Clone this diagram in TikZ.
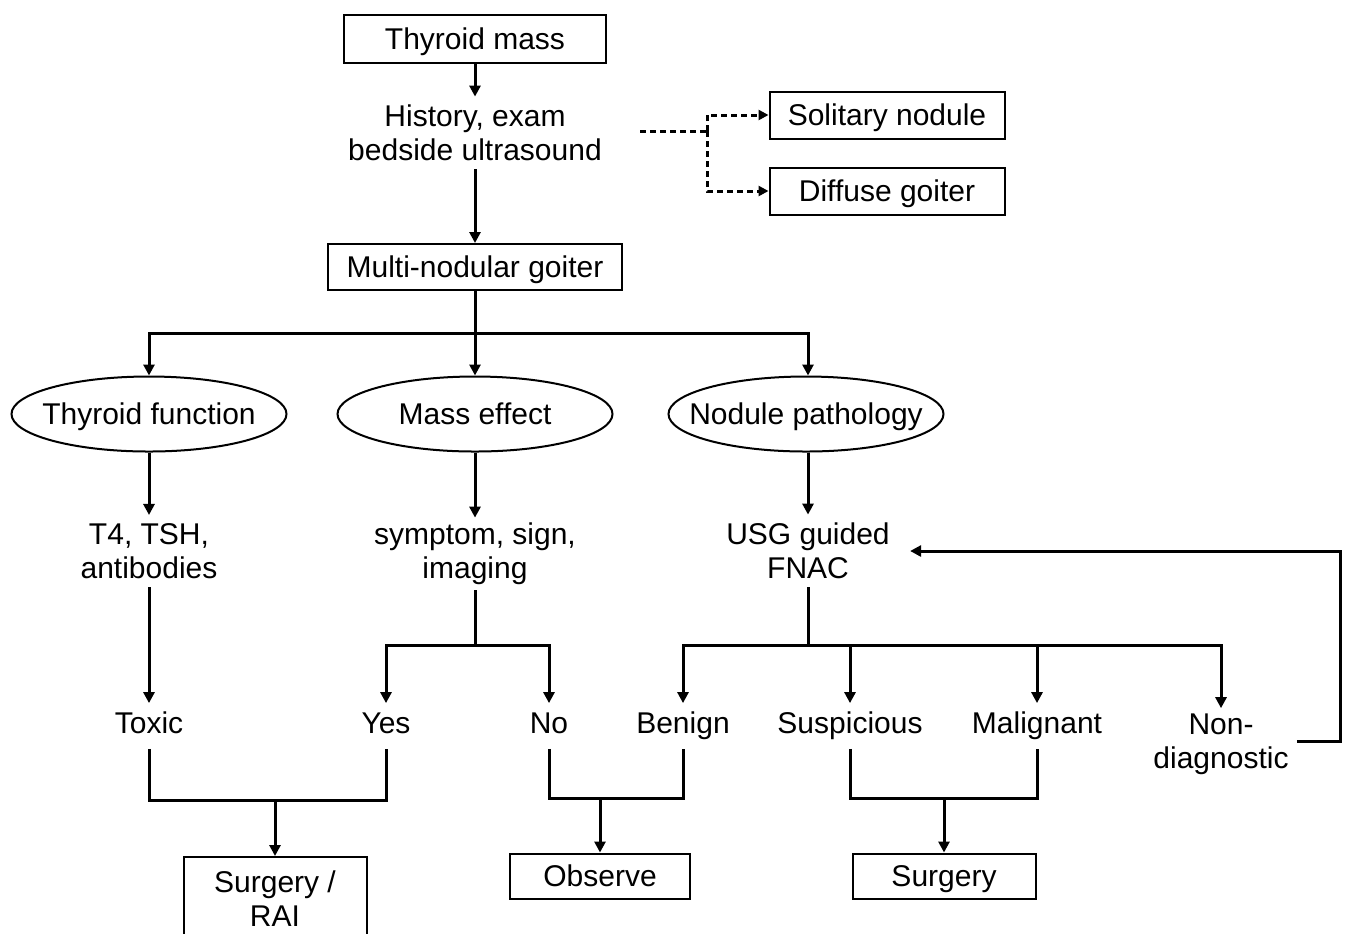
\documentclass[tikz,border=0pt]{standalone}
\usepackage{fontspec}
\setmainfont{Liberation Sans}
\usetikzlibrary{shapes.geometric,arrows.meta}
\begin{document}
\begin{tikzpicture}[x=0.5pt,y=-0.5pt,
  font=\fontsize{15}{17}\selectfont,
  box/.style={draw, line width=1pt, inner sep=0pt, align=center},
  one/.style={text height=14pt, text depth=3.5pt},
  oval/.style={draw, ellipse, line width=1pt, inner sep=0pt, minimum width=137.5pt, minimum height=37.5pt},
  txt/.style={align=center, inner sep=4pt},
  lbl/.style={inner sep=4pt, text height=11pt, text depth=3.5pt},
  conn/.style={line width=1.5pt},
  arr/.style={conn, -{Triangle[length=5.5pt,width=5.5pt]}},
  dsh/.style={line width=1.5pt, dash pattern=on 3pt off 2pt},
  darr/.style={dsh, -{Triangle[length=5pt,width=5pt]}}]
\useasboundingbox (0,0) rectangle (1347,933);
\clip (0,0) rectangle (1347,933);

% top
\node[box, one, minimum width=131pt, minimum height=24pt] (mass) at (475,39) {Thyroid mass};
\node[txt] (hist) at (475,133) {History, exam\\bedside ultrasound};
\node[box, one, minimum width=117.5pt, minimum height=23.5pt] (sol) at (887,115) {Solitary nodule};
\node[box, one, minimum width=117.5pt, minimum height=23.5pt] (dif) at (887,191) {Diffuse goiter};
\node[box, one, minimum width=147pt, minimum height=23pt] (mng) at (475,267) {Multi-nodular goiter};

\draw[arr] (mass.south) -- (hist.north);
\draw[arr] (hist.south) -- (mng.north);

\coordinate (d0) at (640,131);
\coordinate (d1) at (707,131);
\draw[dsh] (d0) -- (d1);
\draw[darr] (d1) |- (sol.west);
\draw[darr] (d1) |- (dif.west);

% ovals
\node[oval] (tf) at (149,414) {\makebox[0pt]{\rule[-3.5pt]{0pt}{17.5pt}Thyroid function}};
\node[oval] (me) at (475,414) {\makebox[0pt]{\rule[-3.5pt]{0pt}{17.5pt}Mass effect}};
\node[oval] (np) at (806,414) {\makebox[0pt]{\rule[-3.5pt]{0pt}{17.5pt}Nodule pathology}};

\coordinate (j1) at (475,333);
\draw[conn] (mng.south) -- (j1);
\draw[arr] (j1) -| (tf.north);
\draw[arr] (j1) -- (me.north);
\draw[arr] (j1) -| ([xshift=1pt]np.north);

% second level text
\node[txt] (tsh) at (149,551) {T4, TSH,\\antibodies};
\node[txt] (sym) at (475,554) {symptom, sign,\\imaging};
\node[txt] (fnac) at (808,551) {USG guided\\FNAC};

\draw[arr] (tf.south) -- (tsh.north);
\draw[arr] (me.south) -- ([yshift=-1.5pt]sym.north);
\draw[arr] ([xshift=1pt]np.south) -- (fnac.north);

% outcomes
\node[lbl] (toxic) at (149,726) {Toxic};
\node[lbl] (yes) at (386,726) {Yes};
\node[lbl] (no) at (549,726) {No};
\node[lbl] (benign) at (683,726) {Benign};
\node[lbl] (susp) at (850,726) {Suspicious};
\node[lbl] (malig) at (1037,726) {Malignant};
\node[txt] (nondiag) at (1221,744) {Non-\\diagnostic};

\draw[arr] (tsh.south) -- (toxic.north);

\coordinate (j2) at (475,645);
\draw[conn] ([yshift=1.5pt]sym.south) -- (j2);
\draw[arr] (j2) -| (yes.north);
\draw[arr] (j2) -| (no.north);

\coordinate (j3) at (808,645);
\draw[conn] (fnac.south) -- (j3);
\draw[arr] (j3) -| (benign.north);
\draw[arr] (j3) -| (susp.north);
\draw[arr] (j3) -| (malig.north);
\draw[arr] (j3) -| ([yshift=-1.5pt]nondiag.north);

\draw[arr, shorten >=6pt] ([yshift=1.5pt]nondiag.east) -- ++(44,0) |- (fnac.east);

% final boxes
\node[box, minimum width=91.5pt, minimum height=42pt] (srai) at (275,899) {Surgery /\\RAI};
\node[box, one, minimum width=90pt, minimum height=22.5pt] (obs) at (600,876) {Observe};
\node[box, one, minimum width=91.5pt, minimum height=22.5pt] (surg) at (944,876) {Surgery};

\coordinate (m1) at (275,800);
\coordinate (m2) at (600,798);
\coordinate (m3) at (944,798);
\draw[conn] (toxic.south) |- (m1) -| (yes.south);
\draw[arr] (m1) -- (srai.north);
\draw[conn] (no.south) |- (m2) -| (benign.south);
\draw[arr] (m2) -- (obs.north);
\draw[conn] (susp.south) |- (m3) -| (malig.south);
\draw[arr] (m3) -- (surg.north);
\end{tikzpicture}
\end{document}
